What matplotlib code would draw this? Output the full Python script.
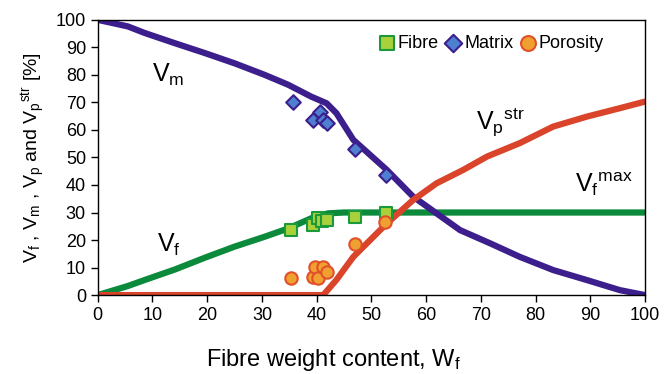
import matplotlib
matplotlib.use('Agg')
import matplotlib.pyplot as plt

plt.rcParams['font.family'] = ['Liberation Sans', 'DejaVu Sans']
plt.rcParams['mathtext.default'] = 'regular'

# model curves
vf_x = [0, 5.5, 8.6, 14.1, 19.6, 25, 30.5, 34.8, 39, 42.1, 45, 100]
vf_y = [0, 3.3, 5.5, 9.3, 13.6, 17.6, 21.2, 24.2, 27.9, 29.7, 30, 30]

vm_x = [0, 5.5, 8.6, 14.1, 19.6, 25, 30.5, 34.8, 39, 41.8, 43.6, 46.7, 52.8,
        57.6, 61.9, 66.2, 71.7, 77.1, 83.2, 89.3, 95.4, 100]
vm_y = [100, 97.6, 95.2, 91.5, 87.9, 84.2, 80, 76.4, 72.1, 69.7, 66.1, 56.4,
        45.5, 35.8, 29.7, 23.6, 18.8, 13.9, 9.1, 5.5, 1.8, 0]

vp_x = [0, 41.2, 43.6, 46.7, 52.8, 57.6, 61.9, 66.8, 71.1, 77.1, 83.2, 89.3,
        95.4, 100]
vp_y = [0, 0, 5.5, 13.9, 26, 34.5, 40.6, 45.5, 50.3, 55.2, 61.2, 64.8, 67.9,
        70.3]

# measured samples
fib_x = [35.4, 39.3, 40.2, 41.0, 41.8, 47, 52.6]
fib_y = [23.6, 25.5, 28, 27.0, 27.3, 28.5, 29.9]
mat_x = [35.6, 39.3, 40.6, 41.2, 41.8, 47, 52.6]
mat_y = [70.3, 63.6, 66.5, 63.6, 62.5, 53, 43.6]
por_x = [35.4, 39.3, 39.7, 40.2, 41.1, 41.8, 47, 52.5]
por_y = [6.2, 6.7, 10.3, 6.2, 10.3, 8.5, 18.5, 26.7]

green = '#0a8a3a'
purple = '#3c1f8c'
red = '#d9442b'

fig = plt.figure(figsize=(6.65, 3.74), dpi=100)
ax = fig.add_axes([0.147, 0.211, 0.823, 0.736])

ax.plot(vf_x, vf_y, color=green, lw=4.5, zorder=2, solid_capstyle='round',
        solid_joinstyle='round')
ax.plot(vm_x, vm_y, color=purple, lw=4.5, zorder=2, solid_capstyle='round',
        solid_joinstyle='round')
ax.plot(vp_x, vp_y, color=red, lw=4.5, zorder=2, solid_capstyle='round',
        solid_joinstyle='round')

ax.scatter(fib_x, fib_y, marker='s', s=70, facecolor='#a8d13a',
           edgecolor='#1a9a3a', linewidth=1.5, zorder=3, label='Fibre')
ax.scatter(mat_x, mat_y, marker='D', s=55, facecolor='#4f7fd0',
           edgecolor=purple, linewidth=1.5, zorder=3, label='Matrix')
ax.scatter(por_x, por_y, marker='o', s=80, facecolor='#f0a030',
           edgecolor='#e0502a', linewidth=1.5, zorder=4, label='Porosity')

ax.text(9.9, 77.5, r'V$_m$', fontsize=18)
ax.text(10.8, 15.6, r'V$_f$', fontsize=18)
ax.text(69.2, 60, r'V$_p$$^{str}$', fontsize=18)
ax.text(87.2, 37.5, r'V$_f$$^{max}$', fontsize=18)

ax.set_xlim(0, 100)
ax.set_ylim(0, 100)
ax.set_xticks(range(0, 101, 10))
ax.set_yticks(range(0, 101, 10))
ax.tick_params(labelsize=13, direction='out', length=5, width=1)
for s in ax.spines.values():
    s.set_linewidth(1)

ax.set_xlabel(r'Fibre weight content, W$_f$', fontsize=17)
ax.xaxis.set_label_coords(0.43, -0.19)
ax.set_ylabel(r'V$_f$ , V$_m$ , V$_p$ and V$_p$$^{str}$ [%]', fontsize=14,
              labelpad=6)

ax.legend(loc='center', bbox_to_anchor=(0.72, 0.915), ncol=3, frameon=False,
          fontsize=13, handlelength=0.8, handletextpad=0.2, columnspacing=0.4,
          borderpad=0.2, markerscale=1.2)

fig.savefig('out.png', dpi=100)
